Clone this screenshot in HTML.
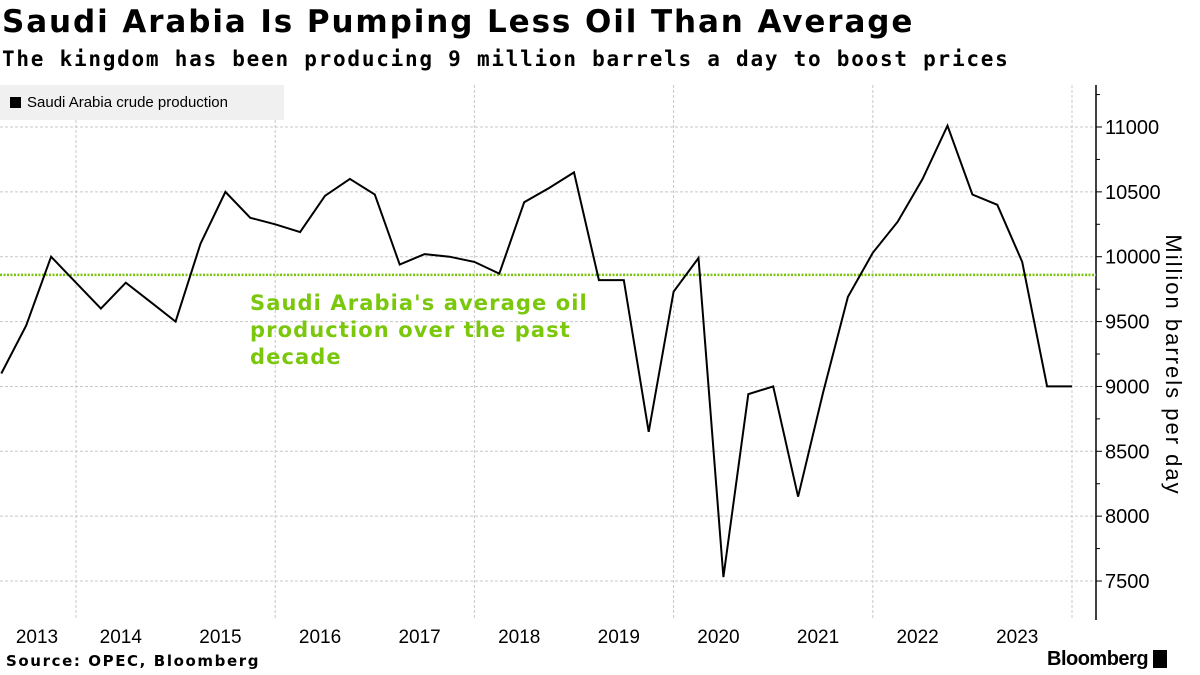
<!DOCTYPE html>
<html><head><meta charset="utf-8"><style>
body{margin:0;background:#fff;font-family:"Liberation Sans","DejaVu Sans",sans-serif;}
#wrap{position:relative;width:1200px;height:675px;overflow:hidden}
</style></head><body>
<div id="wrap">
<div style="position:absolute;left:2px;top:4px;font:bold 31px 'DejaVu Sans',sans-serif;letter-spacing:1.9px;color:#000">Saudi Arabia Is Pumping Less Oil Than Average</div>
<div style="position:absolute;left:2px;top:47px;font:bold 21px 'DejaVu Sans Mono','Liberation Mono',monospace;letter-spacing:1.75px;color:#000">The kingdom has been producing 9 million barrels a day to boost prices</div>
<svg id="svg" width="1200" height="675" style="position:absolute;left:0;top:0"></svg>
<div style="position:absolute;left:0;top:85px;width:284px;height:35px;background:#f0f0f0;font-size:15px;line-height:35px;color:#000"><span style="display:inline-block;width:11px;height:11px;background:#000;margin:0 6px 0 10px;vertical-align:-1px"></span>Saudi Arabia crude production</div>
<div style="position:absolute;left:250px;top:290px;font:bold 21px 'DejaVu Sans',sans-serif;letter-spacing:1.1px;line-height:27px;color:#7ac70c">Saudi Arabia's average oil<br>production over the past<br>decade</div>
<div style="position:absolute;left:1173px;top:365px;transform:translate(-50%,-50%) rotate(90deg);font-size:22px;letter-spacing:2px;white-space:nowrap">Million barrels per day</div>
<div style="position:absolute;left:6px;top:652px;font:bold 15px 'DejaVu Sans',sans-serif;letter-spacing:1.6px">Source: OPEC, Bloomberg</div>
<div style="position:absolute;left:1047px;top:648px;font:bold 20px 'Liberation Sans',sans-serif;letter-spacing:-0.5px">Bloomberg <span style="display:inline-block;width:14px;height:18px;background:#000;vertical-align:-3px"></span></div>
</div>
<script>
const startYear = 2013.25;
const stepYears = 0.25;
const values = [9100,9470,10000,9800,9600,9800,9650,9500,10100,10500,10300,10250,10190,10470,10600,10480,9940,10020,10000,9960,9870,10420,10530,10650,9820,9820,8650,9730,9990,7530,8940,9000,8150,8950,9690,10030,10270,10600,11010,10480,10400,9960,9000,9000];
const yTicks = [7500,8000,8500,9000,9500,10000,10500,11000];
const yearLabels = [2013,2014,2015,2016,2017,2018,2019,2020,2021,2022,2023];
const averageValue = 9860;
const NS='http://www.w3.org/2000/svg';
const svg=document.getElementById('svg');
const x=t=>76+(t-2014)*99.6;
const y=v=>127+(11000-v)*64.86/500;
const PT=85,PB=620,AX=1096;
function mk(tag,attrs){const e=document.createElementNS(NS,tag);for(const k in attrs)e.setAttribute(k,attrs[k]);svg.appendChild(e);return e;}
yTicks.forEach(v=>{
 const g=mk('line',{x1:0,x2:AX,y1:y(v),y2:y(v),stroke:'#c8c8c8','stroke-dasharray':'3,2','stroke-width':1});
 
 const t=mk('line',{x1:AX,x2:AX+6,y1:y(v),y2:y(v),stroke:'#000'});
 
 const m=mk('line',{x1:AX,x2:AX+4,y1:y(v+250),y2:y(v+250),stroke:'#000'});
 
 const l=mk('text',{x:AX+9,y:y(v)+7,'font-size':20,fill:'#000'});l.textContent=v;
 
});
for(let yr=2014;yr<=2024;yr+=2){
 const g=mk('line',{x1:x(yr),x2:x(yr),y1:PT,y2:PB,stroke:'#c8c8c8','stroke-dasharray':'3,2'});
 
}
const ax=mk('line',{x1:AX,x2:AX,y1:PT,y2:PB,stroke:'#000','stroke-width':1.5});

yearLabels.forEach(yr=>{
 const cx=yr===2013?37:x(yr+0.45);
 const l=mk('text',{x:cx,y:643,'font-size':19,'text-anchor':'middle',fill:'#000'});l.textContent=yr;
 
});
const av=mk('line',{x1:0,x2:AX,y1:y(averageValue),y2:y(averageValue),stroke:'#7ac70c','stroke-width':2.5,'stroke-dasharray':'2,1.5'});

const pts=values.map((v,i)=>x(startYear+i*stepYears).toFixed(1)+','+y(v).toFixed(1)).join(' ');
const ln=mk('polyline',{points:pts,fill:'none',stroke:'#000','stroke-width':2,'stroke-linejoin':'miter'});

</script>
</body></html>
